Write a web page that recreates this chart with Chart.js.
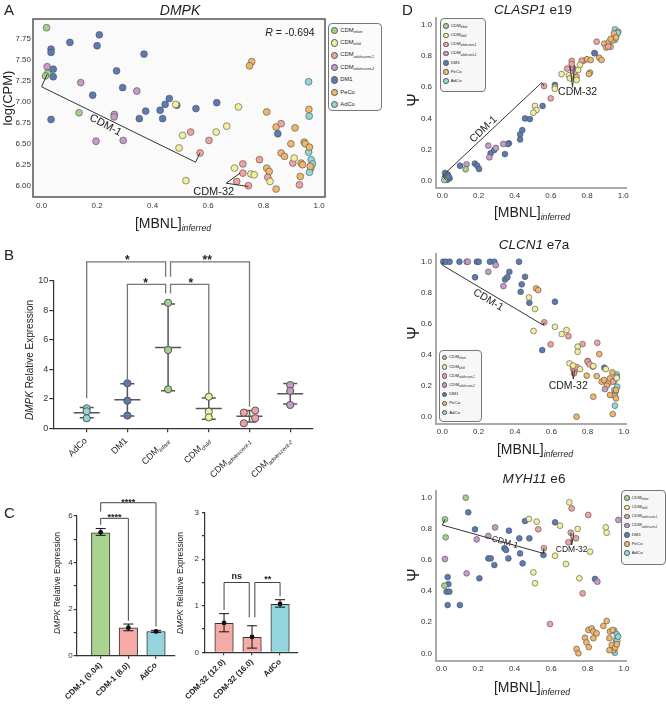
<!DOCTYPE html>
<html>
<head>
<meta charset="utf-8">
<script src="https://cdn.jsdelivr.net/npm/chart.js@4.4.1/dist/chart.umd.min.js"></script>
<style>
  body { margin: 0; background: #fff; }
  #fig { position: relative; width: 666px; height: 706px; overflow: hidden; font-family: 'Liberation Sans', Arial, sans-serif; color: #222; }
  #fig canvas { position: absolute; }
  .t { position: absolute; white-space: nowrap; line-height: 1; }
  .c { transform: translate(-50%, -50%); }
  .v { transform: translate(-50%, -50%) rotate(-90deg); }
  .rl { transform-origin: 100% 50%; transform: rotate(-45deg); font-size: 9px; line-height: 10px; }
  sub { font-style: italic; font-size: 0.62em; vertical-align: baseline; position: relative; top: 0.4em; line-height: 0; }
  .leg { position: absolute; border: 1px solid #777; border-radius: 4px; background: #f8f8f8; box-sizing: border-box; }
  .leg div { display: flex; align-items: center; white-space: nowrap; }
  .leg span.d { border-radius: 50%; border: 0.7px solid #555; box-sizing: border-box; flex: none; }
  .leg span.lb { line-height: 1; }
</style>
</head>
<body>
<div id="fig">
  <canvas id="cA" width="330" height="230" style="left:0;top:0"></canvas>
  <canvas id="cB" width="340" height="240" style="left:0;top:240px"></canvas>
  <canvas id="cC1" width="200" height="226" style="left:0;top:480px"></canvas>
  <canvas id="cC2" width="190" height="226" style="left:150px;top:480px"></canvas>
  <canvas id="cD1" width="266" height="235" style="left:400px;top:0"></canvas>
  <canvas id="cD2" width="266" height="235" style="left:400px;top:235px"></canvas>
  <canvas id="cD3" width="266" height="241" style="left:400px;top:465px"></canvas>

  <div class="t" style="left:4px;top:2px;font-size:15px">A</div>
  <div class="t c" style="left:180px;top:10px;font-size:14px;font-style:italic">DMPK</div>
  <div class="t c" style="left:290px;top:32px;font-size:10.5px"><i>R</i> = -0.694</div>
  <div class="t c" style="left:173px;top:223px;font-size:14px">[MBNL]<sub>inferred</sub></div>
  <div class="t v" style="left:7px;top:98px;font-size:13px">log(CPM)</div>

  <div class="t" style="left:4px;top:247px;font-size:15px">B</div>
  <div class="t v" style="left:30px;top:360px;font-size:10px"><i>DMPK</i> Relative Expression</div>

  <div class="t" style="left:4px;top:505px;font-size:15px">C</div>
  <div class="t v" style="left:57px;top:583px;font-size:8.5px"><i>DMPK</i> Relative Expression</div>
  <div class="t v" style="left:180px;top:583px;font-size:8.5px"><i>DMPK</i> Relative Expression</div>

  <div class="t" style="left:402px;top:2px;font-size:15px">D</div>
  <div class="t c" style="left:533px;top:10px;font-size:13.5px"><i>CLASP1</i> e19</div>
  <div class="t c" style="left:534px;top:245px;font-size:13.5px"><i>CLCN1</i> e7a</div>
  <div class="t c" style="left:534px;top:479px;font-size:13.5px"><i>MYH11</i> e6</div>
  <div class="t c" style="left:532px;top:212px;font-size:14px">[MBNL]<sub>inferred</sub></div>
  <div class="t c" style="left:535px;top:449px;font-size:14px">[MBNL]<sub>inferred</sub></div>
  <div class="t c" style="left:532px;top:687px;font-size:14px">[MBNL]<sub>inferred</sub></div>
  <div class="t v" style="left:414px;top:100px;font-size:16px">Ψ</div>
  <div class="t v" style="left:414px;top:333px;font-size:16px">Ψ</div>
  <div class="t v" style="left:414px;top:575px;font-size:16px">Ψ</div>
</div>
<script>
// groups shared by the scatter panels
const groupNames = [['CDM', 'infant'], ['CDM', 'child'], ['CDM', 'adolescent-1'], ['CDM', 'adolescent-2'], ['DM1', ''], ['PeCo', ''], ['AdCo', '']];
const groupColors = ['#a4d18c', '#f4ef9c', '#f0a2a0', '#c79bc8', '#5b7bb6', '#f0b66b', '#90d8d8'];
const unitTicks = [0, 0.2, 0.4, 0.6, 0.8, 1.0];

// ---- A: DMPK ----
const aInfant = [[0.018, 7.885], [0.022, 7.34], [0.014, 7.31], [0.135, 6.87]];
const aChild = [[0.709, 6.94], [0.667, 6.71], [0.629, 6.64], [0.508, 6.60], [0.495, 6.45], [0.52, 6.06], [0.695, 6.21], [0.754, 6.14], [0.766, 6.13], [0.823, 6.05], [0.91, 6.33], [0.483, 6.97]];
const aAdol1 = [[0.537, 6.64], [0.603, 6.54], [0.571, 6.39], [0.725, 6.26], [0.725, 6.15], [0.703, 6.05], [0.745, 6.0], [0.785, 6.31], [0.863, 6.74], [0.815, 6.10], [0.905, 6.27], [0.929, 6.01]];
const aAdol2 = [[0.02, 7.42], [0.141, 7.23], [0.343, 7.13], [0.262, 6.85], [0.261, 6.82], [0.196, 6.53], [0.294, 6.54]];
const aDm1 = [[0.208, 7.80], [0.2, 7.67], [0.102, 7.71], [0.034, 7.63], [0.034, 7.59], [0.042, 7.39], [0.042, 7.30], [0.034, 6.79], [0.369, 7.57], [0.27, 7.37], [0.292, 7.17], [0.184, 7.08], [0.46, 7.04], [0.445, 6.97], [0.487, 6.96], [0.427, 6.90], [0.375, 6.89], [0.352, 6.80], [0.436, 6.80], [0.556, 6.92], [0.631, 6.99], [0.851, 6.62]];
const aPeco = [[0.757, 7.48], [0.749, 7.43], [0.811, 6.88], [0.845, 6.70], [0.913, 6.69], [0.898, 6.50], [0.863, 6.39], [0.875, 6.35], [0.946, 6.52], [0.95, 6.50], [0.965, 6.46], [0.963, 6.91], [0.935, 6.27], [0.968, 6.23], [0.811, 6.21], [0.82, 6.17], [0.845, 5.96], [0.932, 6.11], [0.94, 6.25]];
const aAdco = [[0.962, 7.24], [0.964, 6.83], [0.962, 6.40], [0.971, 6.31], [0.976, 6.26], [0.97, 6.21], [0.965, 6.16]];
const aYTicks = [6.00, 6.25, 6.50, 6.75, 7.00, 7.25, 7.50, 7.75];
const aCdm1 = [[0.02, 7.33], [0.0, 7.18], [0.555, 6.28], [0.57, 6.39]];
const aCdm32 = [[0.715, 6.15], [0.665, 6.03], [0.745, 5.99]];
const aNotes = [['CDM-1', 0.23, 6.72, 28], ['CDM-32', 0.62, 5.93, 0]];

// ---- B: relative expression per group ----
const bGroups = [['AdCo', ''], ['DM1', ''], ['CDM', 'infant'], ['CDM', 'child'], ['CDM', 'adolescent-1'], ['CDM', 'adolescent-2']];
const bColors = ['#90d8d8', '#5b7bb6', '#a4d18c', '#f4ef9c', '#f0a2a0', '#c79bc8'];
const bAdco = [1.35, 1.15, 0.68];
const bDm1 = [3.05, 1.87, 0.86];
const bInfant = [8.5, 5.3, 2.64];
const bChild = [2.14, 1.13, 0.74];
const bAdol1 = [1.06, 1.2, 0.34, 0.68];
const bAdol2 = [2.93, 2.53, 1.58];
const bJitter = [[0, 0, 0], [0, 0, 0], [0, 0, 0], [0, 0, 0], [-0.14, 0.14, -0.14, 0.14], [0, 0, 0]];
const bYTicks = [0, 2, 4, 6, 8, 10];
const bBrackets = [
  [[1, 2.03], [1, 11.28], [2.94, 11.28], [2.94, 10.27]],
  [[3.06, 10.27], [3.06, 11.28], [5, 11.28], [5, 1.46]],
  [[2, 3.3], [2, 9.75], [2.94, 9.75], [2.94, 9.14]],
  [[3.06, 9.14], [3.06, 9.75], [4, 9.75], [4, 2.37]]
];
const bStars = [['*', 2.0, 11.15, 0], ['**', 3.96, 11.15, 0], ['*', 2.45, 9.6, 0], ['*', 3.56, 9.6, 0]];

// ---- C: bars ----
const c1Labels = ['CDM-1 (0.04)', 'CDM-1 (8.0)', 'AdCo'];
const c1Values = [5.28, 1.2, 1.04];
const c1Lo = [5.17, 1.07, 1.0];
const c1Hi = [5.46, 1.36, 1.09];
const c1Dots = [5.3, 1.2, 1.04];
const c1YTicks = [0, 1, 2, 3, 4, 5, 6];
const c1Brackets = [[[1, 5.62], [1, 5.9], [2, 5.9], [2, 1.5]], [[1, 6.19], [1, 6.57], [3, 6.57], [3, 1.25]]];
const c1Stars = [['****', 1.5, 5.82, 0], ['****', 2, 6.49, 0]];
const c2Labels = ['CDM-32 (12.0)', 'CDM-32 (16.0)', 'AdCo'];
const c2Values = [0.62, 0.32, 1.03];
const c2Lo = [0.44, 0.09, 0.97];
const c2Hi = [0.83, 0.57, 1.13];
const c2Dots = [0.63, 0.33, 1.04];
const c2YTicks = [0, 0.5, 1, 1.5, 2, 2.5, 3];
const c2Brackets = [[[1, 0.91], [1, 1.5], [1.9, 1.5], [1.9, 0.75]], [[2.1, 0.75], [2.1, 1.5], [3, 1.5], [3, 1.2]]];
const c2Stars = [['ns', 1.45, 1.57, 0], ['**', 2.56, 1.51, 0]];

// ---- D1: CLASP1 e19 ----
const d1Infant = [[0.129, 0.073], [0.011, 0.004]];
const d1Child = [[0.512, 0.48], [0.52, 0.454], [0.503, 0.437], [0.622, 0.60], [0.622, 0.59], [0.659, 0.685], [0.70, 0.677], [0.705, 0.657], [0.742, 0.647], [0.76, 0.743], [0.751, 0.711]];
const d1Adol1 = [[0.562, 0.608], [0.599, 0.529], [0.715, 0.769], [0.715, 0.748], [0.69, 0.72], [0.733, 0.70], [0.77, 0.771], [0.853, 0.893], [0.917, 0.861]];
const d1Adol2 = [[0.134, 0.105], [0.254, 0.225], [0.296, 0.21], [0.337, 0.236], [0.724, 0.72], [0.26, 0.15]];
const d1Dm1 = [[0.02, 0.03], [0.03, 0.04], [0.015, 0.05], [0.04, 0.015], [0.025, 0.005], [0.035, 0.025], [0.098, 0.096], [0.18, 0.11], [0.193, 0.096], [0.203, 0.075], [0.267, 0.176], [0.287, 0.197], [0.346, 0.171], [0.368, 0.24], [0.43, 0.265], [0.43, 0.298], [0.442, 0.325], [0.457, 0.40], [0.484, 0.396], [0.554, 0.48], [0.622, 0.615], [0.843, 0.818], [0.362, 0.235]];
const d1Peco = [[0.742, 0.668], [0.78, 0.77], [0.8, 0.78], [0.82, 0.775], [0.816, 0.694], [0.81, 0.685], [0.867, 0.79], [0.84, 0.82], [0.895, 0.88], [0.92, 0.89], [0.94, 0.9], [0.93, 0.86], [0.905, 0.855], [0.88, 0.775], [0.948, 0.946], [0.96, 0.92], [0.93, 0.91]];
const d1Adco = [[0.954, 0.972], [0.972, 0.957], [0.954, 0.904], [0.963, 0.936], [0.97, 0.95]];
const d1Cdm1 = [[0.02, 0.005], [0.0, 0.03], [0.549, 0.63], [0.562, 0.608]];
const d1Cdm32 = [[0.705, 0.74], [0.72, 0.6], [0.73, 0.74]];
const d1Notes = [['CDM-1', 0.227, 0.33, -44], ['CDM-32', 0.748, 0.568, 0]];

// ---- D2: CLCN1 e7a ----
const d2Infant = [];
const d2Child = [[0.477, 0.77], [0.51, 0.695], [0.502, 0.553], [0.62, 0.58], [0.657, 0.533], [0.684, 0.559], [0.745, 0.452], [0.745, 0.419], [0.70, 0.344], [0.758, 0.307], [0.90, 0.307], [0.831, 0.327], [0.96, 0.25], [0.72, 0.33]];
const d2Adol1 = [[0.561, 0.609], [0.596, 0.467], [0.694, 0.52], [0.772, 0.469], [0.853, 0.477], [0.72, 0.31], [0.73, 0.30], [0.74, 0.32], [0.725, 0.28], [0.80, 0.355], [0.81, 0.338], [0.94, 0.226]];
const d2Adol2 = [[0.134, 1.0], [0.253, 0.935], [0.294, 0.978], [0.336, 0.843], [0.895, 0.178], [0.14, 1.0]];
const d2Dm1 = [[0.005, 1.0], [0.02, 1.0], [0.04, 1.0], [0.094, 1.0], [0.19, 1.0], [0.2, 1.0], [0.262, 1.0], [0.286, 1.0], [0.422, 1.0], [0.18, 0.90], [0.369, 0.935], [0.345, 0.886], [0.358, 0.90], [0.455, 0.903], [0.437, 0.854], [0.431, 0.806], [0.479, 0.735], [0.62, 0.742], [0.55, 0.43], [0.892, 0.316]];
const d2Peco = [[0.516, 0.828], [0.528, 0.817], [0.864, 0.404], [0.80, 0.36], [0.829, 0.323], [0.85, 0.262], [0.795, 0.265], [0.877, 0.226], [0.89, 0.237], [0.914, 0.215], [0.923, 0.247], [0.936, 0.286], [0.831, 0.129], [0.739, 0.0], [0.938, 0.017], [0.923, 0.14], [0.95, 0.133], [0.956, 0.172], [0.956, 0.118], [0.905, 0.2], [0.945, 0.23]];
const d2Adco = [[0.96, 0.273], [0.96, 0.258], [0.963, 0.194], [0.947, 0.172], [0.95, 0.071], [0.954, 0.161]];
const d2Cdm1 = [[0.005, 1.0], [0.0, 0.978], [0.556, 0.591], [0.561, 0.609]];
const d2Cdm32 = [[0.715, 0.295], [0.721, 0.243], [0.728, 0.295]];
const d2Notes = [['CDM-1', 0.253, 0.753, 31], ['CDM-32', 0.693, 0.2, 0]];

// ---- D3: MYH11 e6 ----
const d3Infant = [[0.132, 1.0], [0.018, 0.861], [0.022, 0.745], [0.015, 0.435]];
const d3Child = [[0.479, 0.863], [0.521, 0.846], [0.503, 0.52], [0.512, 0.45], [0.622, 0.627], [0.649, 0.82], [0.682, 0.574], [0.70, 0.97], [0.746, 0.799], [0.755, 0.482], [0.814, 0.653], [0.90, 0.809], [0.905, 0.775]];
const d3Adol1 = [[0.53, 0.797], [0.561, 0.675], [0.594, 0.188], [0.708, 0.775], [0.695, 0.713], [0.737, 0.739], [0.773, 0.385], [0.804, 0.889], [0.713, 0.931]];
const d3Adol2 = [[0.192, 0.732], [0.256, 0.754], [0.293, 0.809], [0.137, 0.514], [0.018, 0.606], [0.854, 0.46], [0.969, 0.857]];
const d3Dm1 = [[0.146, 0.906], [0.183, 0.797], [0.033, 0.49], [0.037, 0.445], [0.027, 0.396], [0.042, 0.396], [0.033, 0.31], [0.1, 0.31], [0.207, 0.482], [0.256, 0.61], [0.269, 0.61], [0.289, 0.567], [0.344, 0.675], [0.353, 0.664], [0.369, 0.788], [0.366, 0.61], [0.426, 0.739], [0.43, 0.642], [0.444, 0.578], [0.457, 0.85], [0.481, 0.739], [0.558, 0.632], [0.622, 0.842], [0.841, 0.478]];
const d3Peco = [[0.74, 0.028], [0.75, 0.0], [0.786, 0.1], [0.794, 0.07], [0.807, 0.04], [0.805, 0.15], [0.823, 0.16], [0.832, 0.14], [0.832, 0.097], [0.85, 0.128], [0.887, 0.176], [0.905, 0.208], [0.92, 0.097], [0.933, 0.054], [0.942, 0.02], [0.952, 0.036], [0.961, 0.058], [0.923, 0.14], [0.938, 0.15], [0.92, 0.02]];
const d3Adco = [[0.947, 0.146], [0.96, 0.122], [0.956, 0.086], [0.963, 0.08], [0.95, 0.004], [0.968, 0.107]];
const d3Cdm1 = [[0.018, 0.861], [0.004, 0.824], [0.558, 0.642], [0.561, 0.675]];
const d3Cdm32 = [[0.708, 0.775], [0.713, 0.696], [0.725, 0.77]];
const d3Notes = [['CDM-1', 0.347, 0.713, 16], ['CDM-32', 0.713, 0.664, 0]];

const FONT = "'Liberation Sans', Arial, sans-serif";
Chart.defaults.font.family = FONT;
Chart.defaults.color = '#333';
Chart.defaults.animation = false;
Chart.defaults.plugins.legend.display = false;
Chart.defaults.plugins.tooltip.enabled = false;
const fig = document.getElementById('fig');

// axis size is fixed so the plot areas land where the figure has them
function fit(size, horiz) {
  return s => {
    if (horiz) s.height = size; else s.width = size;
    s.paddingLeft = s.paddingRight = s.paddingTop = s.paddingBottom = 0;
  };
}
function fixed(vals) { return s => { s.ticks = vals.map(v => ({ value: v })); }; }

function drawErr(chart, o) {
  const { ctx, scales: { x, y } } = chart;
  ctx.save();
  ctx.strokeStyle = o.errColor;
  ctx.lineWidth = o.errWidth;
  o.errs.forEach(e => {
    const px = x.getPixelForValue(e.x), lo = y.getPixelForValue(e.lo), hi = y.getPixelForValue(e.hi);
    ctx.beginPath();
    ctx.moveTo(px, lo); ctx.lineTo(px, hi);
    ctx.moveTo(px - o.cap, lo); ctx.lineTo(px + o.cap, lo);
    ctx.moveTo(px - o.cap, hi); ctx.lineTo(px + o.cap, hi);
    if (e.mean !== undefined) {
      const m = y.getPixelForValue(e.mean);
      ctx.moveTo(px - o.meanW, m); ctx.lineTo(px + o.meanW, m);
    }
    ctx.stroke();
  });
  ctx.restore();
}

// brackets, annotation lines, text notes and error bars
function overlay(o) {
  return {
    id: 'overlay',
    beforeDraw(chart) {
      if (!o.frame) return;
      const a = chart.chartArea, ctx = chart.ctx;
      ctx.save();
      ctx.fillStyle = o.frame.bg;
      ctx.fillRect(a.left, a.top, a.right - a.left, a.bottom - a.top);
      ctx.restore();
    },
    beforeDatasetsDraw(chart) { if (o.errs && o.errBefore) drawErr(chart, o); },
    afterDatasetDraw(chart, args) { if (o.errs && !o.errBefore && args.index === 0) drawErr(chart, o); },
    afterDatasetsDraw(chart) {
      const { ctx, scales: { x, y } } = chart;
      ctx.save();
      ctx.strokeStyle = o.lineColor || '#333';
      ctx.lineWidth = o.lineWidth || 1;
      (o.lines || []).forEach(l => {
        ctx.beginPath();
        l.forEach((p, i) => {
          const px = x.getPixelForValue(p[0]), py = y.getPixelForValue(p[1]);
          if (i) ctx.lineTo(px, py); else ctx.moveTo(px, py);
        });
        ctx.stroke();
      });
      ctx.fillStyle = '#222';
      ctx.font = o.font;
      ctx.textAlign = 'center';
      ctx.textBaseline = o.baseline || 'middle';
      (o.texts || []).forEach(t => {
        ctx.save();
        ctx.translate(x.getPixelForValue(t[1]), y.getPixelForValue(t[2]));
        ctx.rotate(t[3] * Math.PI / 180);
        ctx.fillText(t[0], 0, 0);
        ctx.restore();
      });
      ctx.restore();
    },
    afterDraw(chart) {
      if (!o.frame) return;
      const a = chart.chartArea, ctx = chart.ctx;
      ctx.save();
      ctx.strokeStyle = o.frame.color;
      ctx.lineWidth = o.frame.width;
      ctx.strokeRect(a.left, a.top, a.right - a.left, a.bottom - a.top);
      ctx.restore();
    }
  };
}

function scatterSets(groups, r) {
  return groups.map((pts, i) => ({
    data: pts.map(p => ({ x: p[0], y: p[1] })),
    backgroundColor: groupColors[i], borderColor: '#4d4d4d', borderWidth: 0.6, pointRadius: r
  }));
}

function legend(box, dot, font, rowH, padT, padL, gap, bg) {
  const el = document.createElement('div');
  el.className = 'leg';
  Object.assign(el.style, {
    left: box[0] + 'px', top: box[1] + 'px', width: box[2] + 'px', height: box[3] + 'px',
    paddingTop: padT + 'px', paddingLeft: padL + 'px', fontSize: font + 'px', background: bg
  });
  groupNames.forEach((g, i) => {
    const row = document.createElement('div');
    row.style.height = rowH + 'px';
    row.innerHTML = '<span class="d" style="width:' + dot + 'px;height:' + dot + 'px;background:' + groupColors[i] +
      ';margin-right:' + gap + 'px"></span><span class="lb">' + g[0] + (g[1] ? '<sub>' + g[1] + '</sub>' : '') + '</span>';
    el.appendChild(row);
  });
  fig.appendChild(el);
}

// ---- A ----
new Chart(document.getElementById('cA'), {
  type: 'scatter',
  data: { datasets: scatterSets([aInfant, aChild, aAdol1, aAdol2, aDm1, aPeco, aAdco], 3.4) },
  options: {
    responsive: false,
    layout: { padding: { top: 19, right: 5, left: 0, bottom: 0 } },
    scales: {
      x: {
        type: 'linear', min: -0.031, max: 1.021, afterFit: fit(33, true), afterBuildTicks: fixed(unitTicks),
        grid: { display: false, drawTicks: false }, border: { display: false },
        ticks: { font: { size: 8 }, padding: 4, callback: v => v.toFixed(1) }
      },
      y: {
        min: 5.865, max: 7.989, afterFit: fit(33), afterBuildTicks: fixed(aYTicks),
        grid: { display: false, drawTicks: false }, border: { display: false },
        ticks: { font: { size: 8 }, padding: 2, callback: v => v.toFixed(2) }
      }
    }
  },
  plugins: [overlay({
    frame: { bg: '#fafafa', color: '#555', width: 1.5 },
    lines: [aCdm1, aCdm32], texts: aNotes, font: '11px ' + FONT
  })]
});
legend([327.5, 23.3, 54.5, 87.4], 7.3, 5.8, 12.4, 0, 2.5, 2, '#fbfbfb');

// ---- B ----
function meanSd(v) {
  const m = v.reduce((a, b) => a + b, 0) / v.length;
  const s = Math.sqrt(v.reduce((a, b) => a + (b - m) * (b - m), 0) / (v.length - 1));
  return [m, s];
}
const bValues = [bAdco, bDm1, bInfant, bChild, bAdol1, bAdol2];
const bErrs = bValues.map((v, i) => {
  const [m, s] = meanSd(v);
  return { x: i + 1, mean: m, lo: m - s, hi: m + s };
});
const axisLine = { display: true, color: '#333', width: 1.2 };
const tickMarks = { display: true, drawOnChartArea: false, drawTicks: true, tickLength: 4, color: '#333', lineWidth: 1.2 };

const bTickLabels = {
  id: 'bTickLabels',
  afterRender(chart) {
    if (chart.$labelsDone) return;
    chart.$labelsDone = true;
    const cv = chart.canvas, sx = chart.scales.x;
    bGroups.forEach((g, i) => {
      const px = cv.offsetLeft + sx.getPixelForValue(i + 1);
      const py = cv.offsetTop + sx.top + 11;
      const el = document.createElement('div');
      el.className = 't rl';
      el.style.right = (666 - px + 1) + 'px';
      el.style.top = (py - 5) + 'px';
      el.innerHTML = g[0] + (g[1] ? '<sub>' + g[1] + '</sub>' : '');
      fig.appendChild(el);
    });
  }
};

new Chart(document.getElementById('cB'), {
  type: 'scatter',
  data: {
    datasets: bValues.map((vals, i) => ({
      data: vals.map((v, j) => ({ x: i + 1 + bJitter[i][j], y: v })),
      backgroundColor: bColors[i], borderColor: '#555', borderWidth: 1, pointRadius: 3.6
    }))
  },
  options: {
    responsive: false,
    layout: { padding: { top: 40.7, right: 27, left: 0, bottom: 0 } },
    scales: {
      x: {
        type: 'linear', min: 0.18, max: 6.56, afterFit: fit(51.7, true), afterBuildTicks: fixed([1, 2, 3, 4, 5, 6]),
        grid: tickMarks, border: axisLine, ticks: { display: false }
      },
      y: {
        min: 0, max: 10, afterFit: fit(53.3), afterBuildTicks: fixed(bYTicks),
        grid: tickMarks, border: axisLine, ticks: { font: { size: 9 }, padding: 1 }
      }
    }
  },
  plugins: [overlay({
    errs: bErrs, errBefore: true, errColor: '#555', errWidth: 1.5, cap: 7, meanW: 13,
    lines: bBrackets, lineColor: '#777', lineWidth: 1.3,
    texts: bStars, font: 'bold 12px ' + FONT, baseline: 'alphabetic'
  }), bTickLabels]
});

// ---- C ----
function barChart(id, labels, values, lo, hi, dots, colors, yTicks, ymax, xlim, dims, brackets, stars, labelEvery) {
  new Chart(document.getElementById(id), {
    type: 'bar',
    data: {
      datasets: [
        {
          type: 'bar', order: 1, data: values.map((v, i) => ({ x: i + 1, y: v })),
          backgroundColor: colors, borderColor: '#333', borderWidth: 1, barThickness: 18.5
        },
        {
          type: 'scatter', order: 0, data: dots.map((v, i) => ({ x: i + 1, y: v })),
          backgroundColor: '#111', borderColor: '#111', pointRadius: 2.4, borderWidth: 0
        }
      ]
    },
    options: {
      responsive: false,
      layout: { padding: { top: dims.top, right: dims.right, left: 0, bottom: 0 } },
      scales: {
        x: {
          type: 'linear', offset: false, min: xlim[0], max: xlim[1], afterFit: fit(dims.xh, true), afterBuildTicks: fixed([1, 2, 3]),
          grid: Object.assign({}, tickMarks, { tickLength: 3, offset: false }), border: axisLine,
          ticks: { autoSkip: false, minRotation: 45, maxRotation: 45, padding: 2, font: { size: 8, weight: 'bold' }, color: '#222', callback: v => labels[v - 1] }
        },
        y: {
          min: 0, max: ymax, afterFit: fit(dims.yw), afterBuildTicks: fixed(yTicks),
          grid: Object.assign({}, tickMarks, { tickLength: 3 }), border: axisLine,
          ticks: { font: { size: 8 }, padding: dims.tp, callback: v => (Math.abs(v / labelEvery - Math.round(v / labelEvery)) < 1e-6 ? v : '') }
        }
      }
    },
    plugins: [overlay({
      errs: values.map((v, i) => ({ x: i + 1, lo: lo[i], hi: hi[i] })), errColor: '#111', errWidth: 1, cap: 5,
      lines: brackets, lineColor: '#444', lineWidth: 1,
      texts: stars, font: 'bold 9px ' + FONT, baseline: 'alphabetic'
    })]
  });
}
barChart('cC1', c1Labels, c1Values, c1Lo, c1Hi, c1Dots, ['#a9d38e', '#f4aaa5', '#93d4dd'], c1YTicks, 6, [0.132, 3.687],
  { top: 36, right: 25, xh: 50.3, yw: 76.7, tp: 1 }, c1Brackets, c1Stars, 2);
barChart('cC2', c2Labels, c2Values, c2Lo, c2Hi, c2Dots, ['#f4aaa5', '#f4aaa5', '#93d4dd'], c2YTicks, 3, [0.32, 3.64],
  { top: 32.7, right: 42, xh: 53.7, yw: 55, tp: 3 }, c2Brackets, c2Stars, 1);

// ---- D ----
function dChart(id, groups, xlim, ylim, dims, lines, notes, fontSize) {
  const grey = { display: true, color: '#aaa', width: 2 };
  new Chart(document.getElementById(id), {
    type: 'scatter',
    data: { datasets: scatterSets(groups, 2.9) },
    options: {
      responsive: false,
      layout: { padding: { top: dims.top, right: dims.right, left: 0, bottom: 0 } },
      scales: {
        x: {
          type: 'linear', min: xlim[0], max: xlim[1], afterFit: fit(dims.xh, true), afterBuildTicks: fixed(unitTicks),
          grid: { display: false, drawTicks: false }, border: grey,
          ticks: { font: { size: 8 }, padding: 3, callback: v => v.toFixed(1) }
        },
        y: {
          min: ylim[0], max: ylim[1], afterFit: fit(dims.yw), afterBuildTicks: fixed(unitTicks),
          grid: { display: false, drawTicks: false }, border: grey,
          ticks: { font: { size: 8 }, padding: 4, callback: v => v.toFixed(1) }
        }
      }
    },
    plugins: [overlay({ lines: lines, lineColor: '#333', lineWidth: 1, texts: notes, font: fontSize + 'px ' + FONT })]
  });
}
dChart('cD1', [d1Infant, d1Child, d1Adol1, d1Adol2, d1Dm1, d1Peco, d1Adco], [-0.035, 1.019], [-0.049, 1.045],
  { top: 18, right: 39.3, xh: 46.7, yw: 36 }, [d1Cdm1, d1Cdm32], d1Notes, 10.5);
dChart('cD2', [d2Infant, d2Child, d2Adol1, d2Adol2, d2Dm1, d2Peco, d2Adco], [-0.035, 1.015], [-0.049, 1.05],
  { top: 19, right: 39.3, xh: 45.7, yw: 36 }, [d2Cdm1, d2Cdm32], d2Notes, 10.5);
dChart('cD3', [d3Infant, d3Child, d3Adol1, d3Adol2, d3Dm1, d3Peco, d3Adco], [-0.031, 1.011], [-0.0495, 1.043],
  { top: 26, right: 40, xh: 45, yw: 36 }, [d3Cdm1, d3Cdm32], d3Notes, 8.5);
legend([440, 18, 46, 74], 5.5, 4.4, 9.2, 2.5, 2.2, 2, '#f7f7f7');
legend([438.5, 349.5, 43, 72], 5.5, 4.4, 9.2, 2.5, 2.2, 2, '#f7f7f7');
legend([621, 490, 44.5, 75], 5.5, 4.4, 9.2, 2.5, 2.2, 2, '#f7f7f7');
</script>
</body>
</html>
